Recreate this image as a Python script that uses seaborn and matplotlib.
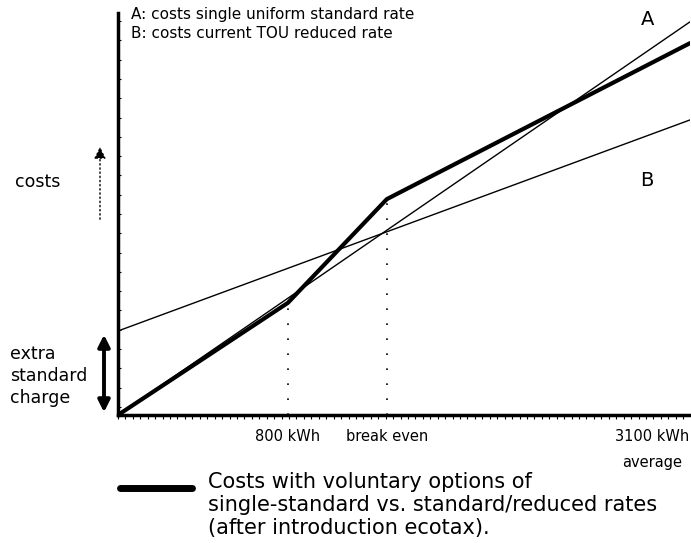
import numpy as np
import pandas as pd
import matplotlib
matplotlib.use("Agg")
import matplotlib.pyplot as plt
import seaborn as sns

# Datos del esquema (unidades arbitrarias 0-100 en ambos ejes)
x_kinks = [0, 29.7, 47.0, 100]          # origen, 800 kWh, break even, final
bold_costs = [0, 27.9, 53.7, 92.5]      # costes con opciones voluntarias
x_ends = [0, 100]
costs_a = [0, 97.8]                     # A: tarifa estandar unica
costs_b = [20.9, 73.4]                  # B: tarifa TOU reducida
tick_pos = [29.7, 47.0, 93.4]
tick_labels = ["800 kWh", "break even", "3100 kWh\naverage"]

sns.set_style("white")
plt.rcParams["font.family"] = ["DejaVu Sans"]
plt.rcParams["text.color"] = "black"
plt.rcParams["xtick.color"] = "black"
plt.rcParams["ytick.color"] = "black"
plt.rcParams["axes.edgecolor"] = "black"

fig = plt.figure(figsize=(6.91, 5.43), dpi=100)
ax = fig.add_axes([118 / 691, 1 - 415 / 543, 572 / 691, 402 / 543])

df_a = pd.DataFrame({"x": x_ends, "y": costs_a})
df_b = pd.DataFrame({"x": x_ends, "y": costs_b})
df_bold = pd.DataFrame({"x": x_kinks, "y": bold_costs})

sns.lineplot(data=df_a, x="x", y="y", ax=ax, color="black", linewidth=1.0)
sns.lineplot(data=df_b, x="x", y="y", ax=ax, color="black", linewidth=1.0)
sns.lineplot(data=df_bold, x="x", y="y", ax=ax, color="black", linewidth=3.0,
             solid_joinstyle="miter")

# lineas punteadas verticales (800 kWh y break even)
for xv, yv in zip(x_kinks[1:3], bold_costs[1:3]):
    ax.plot([xv, xv], [0, yv], color="black", linestyle=(0, (1, 8)), linewidth=1.2)

ax.set_xlim(0, 100)
ax.set_ylim(0, 100)
ax.set_xlabel("")
ax.set_ylabel("")

# ejes
for s in ["top", "right"]:
    ax.spines[s].set_visible(False)
ax.spines["left"].set_linewidth(2.5)
ax.spines["bottom"].set_linewidth(2.5)

ax.set_xticks(tick_pos)
ax.set_xticklabels(tick_labels, fontsize=10.5, va="top", color="black")
ax.tick_params(axis="x", length=0, pad=10)
ax.set_xticks(np.arange(0, 100, 1.3), minor=True)
ax.tick_params(axis="x", which="minor", direction="out", length=3, width=0.8, bottom=True)
ax.set_yticks([])
ax.set_yticks(np.arange(2, 100, 4.8), minor=True)
ax.tick_params(axis="y", which="minor", direction="in", length=2, width=0.8, left=True)
for lab in ax.get_xticklabels():
    lab.set_linespacing(1.9)

# textos
ax.text(2.2, 101.5, "A: costs single uniform standard rate\nB: costs current TOU reduced rate",
        fontsize=11, va="top", ha="left", linespacing=1.3)
ax.text(92.5, 96, "A", fontsize=14, ha="center", va="bottom")
ax.text(92.5, 56, "B", fontsize=14, ha="center", va="bottom")

# etiquetas a la izquierda del eje
fig.text(15 / 691, 1 - 182 / 543, "costs", fontsize=12.5, va="center", ha="left")
fig.add_artist(matplotlib.patches.FancyArrowPatch(
    (100 / 691, 1 - 222 / 543), (100 / 691, 1 - 144 / 543), transform=fig.transFigure,
    arrowstyle="-|>,head_length=7,head_width=3.5", linestyle=(0, (1, 2)), color="black",
    linewidth=1.0))
fig.text(10 / 691, 1 - 376 / 543, "extra\nstandard\ncharge", fontsize=12.5, va="center",
         ha="left", linespacing=1.3)
fig.add_artist(matplotlib.patches.FancyArrowPatch(
    (104 / 691, 1 - 332 / 543), (104 / 691, 1 - 415 / 543), transform=fig.transFigure,
    arrowstyle="<|-|>,head_length=7,head_width=3.5", color="black", linewidth=2.8))

# leyenda
fig.add_artist(matplotlib.lines.Line2D([120 / 691, 192 / 691], [1 - 488 / 543, 1 - 488 / 543],
                                       color="black", linewidth=5))
fig.text(208 / 691, 1 - 505 / 543,
         "Costs with voluntary options of\nsingle-standard vs. standard/reduced rates\n(after introduction ecotax).",
         fontsize=15, va="center", ha="left", linespacing=1.18)

fig.savefig("out.png", dpi=100)
